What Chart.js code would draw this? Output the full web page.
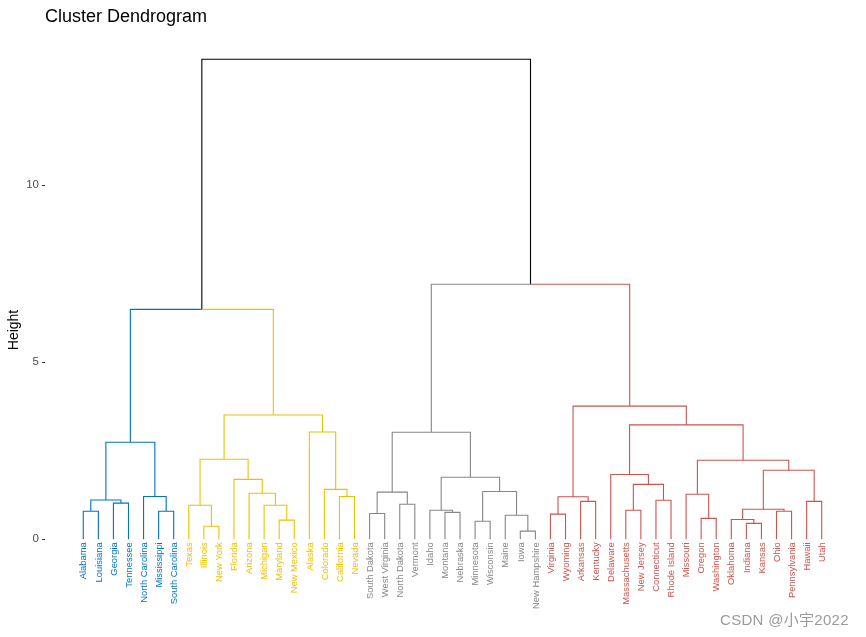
<!DOCTYPE html>
<html><head><meta charset="utf-8">
<script src="https://cdn.jsdelivr.net/npm/chart.js@4"></script>
<style>
html,body{margin:0;padding:0;background:#fff;}
#wrap{position:relative;width:866px;height:637px;}
#mark{position:absolute;left:720px;top:608px;font:15px "Liberation Sans","Noto Sans CJK SC",sans-serif;letter-spacing:0.3px;color:#9a9a9a;white-space:nowrap;}
</style></head><body>
<div id="wrap"><canvas id="c"></canvas><span id="mark">CSDN @小宇2022</span></div>
<script>
// Leaves in dendrogram order
const leaves = ["Alabama","Louisiana","Georgia","Tennessee","North Carolina","Mississippi","South Carolina",
  "Texas","Illinois","New York","Florida","Arizona","Michigan","Maryland","New Mexico","Alaska","Colorado","California","Nevada",
  "South Dakota","West Virginia","North Dakota","Vermont","Idaho","Montana","Nebraska","Minnesota","Wisconsin","Maine","Iowa","New Hampshire",
  "Virginia","Wyoming","Arkansas","Kentucky","Delaware","Massachusetts","New Jersey","Connecticut","Rhode Island","Missouri","Oregon","Washington",
  "Oklahoma","Indiana","Kansas","Ohio","Pennsylvania","Hawaii","Utah"];
// Cluster of each leaf (k = 4)
const leafCluster = [1,1,1,1,1,1,1,
  2,2,2,2,2,2,2,2,2,2,2,2,
  3,3,3,3,3,3,3,3,3,3,3,3,
  4,4,4,4,4,4,4,4,4,4,4,4,4,4,4,4,4,4,4];
const clusterColors = ["#0073C2","#EFC000","#868686","#CD534C"];
const rootColor = "#000000";
// Merge table (negative = leaf position, positive = earlier merge number)
const mergeLeft  = [-1,-3,1,-6,-5,3,-9,-8,-14,-13,-12,-11,8,-18,-17,-16,13,6,
  -20,-22,19,-25,-24,-27,-30,-29,24,23,21,
  -32,-34,30,-37,-39,33,-36,-42,-41,-45,-44,-47,40,-49,42,38,36,32,29,18];
const mergeRight = [-2,-4,2,-7,4,5,-10,7,-15,9,10,11,12,-19,14,15,16,17,
  -21,-23,20,-26,22,-28,-31,25,26,27,28,
  -33,-35,31,-38,-40,34,35,-43,37,-46,39,-48,41,-50,43,44,45,46,47,48];
const mergeHeight = [0.79,1.02,1.11,0.79,1.21,2.74,0.37,0.96,0.54,0.96,1.30,1.69,2.26,1.21,1.41,3.03,3.51,6.49,
  0.73,0.99,1.33,0.76,0.82,0.51,0.23,0.68,1.35,1.75,3.02,
  0.71,1.07,1.20,0.82,1.10,1.55,1.83,0.59,1.27,0.45,0.56,0.79,0.85,1.07,1.95,2.23,3.23,3.76,7.20,13.55];
const yTickValues = [0,5,10];

// Build node positions
const mx = [], mcl = [];
const nx = r => r < 0 ? -r : mx[r-1];
const nh = r => r < 0 ? 0 : mergeHeight[r-1];
const ncl = r => r < 0 ? leafCluster[-r-1] : mcl[r-1];
for (let i = 0; i < mergeHeight.length; i++) {
  const a = mergeLeft[i], b = mergeRight[i];
  mx.push((nx(a) + nx(b)) / 2);
  const ca = ncl(a), cb = ncl(b);
  mcl.push(ca !== null && ca === cb ? ca : null);
}
const groups = {};
function addEdge(i, c) {
  const cl = ncl(c);
  const col = cl === null ? rootColor : clusterColors[cl-1];
  if (!groups[col]) groups[col] = [];
  const h = mergeHeight[i];
  groups[col].push({x: mx[i], y: h}, {x: nx(c), y: h}, {x: nx(c), y: nh(c)}, {x: null, y: null});
}
for (let i = 0; i < mergeHeight.length; i++) { addEdge(i, mergeLeft[i]); addEdge(i, mergeRight[i]); }
const datasets = Object.keys(groups).map(col => ({
  data: groups[col], borderColor: col, backgroundColor: col, borderWidth: 1.1,
  showLine: true, pointRadius: 0, spanGaps: false, tension: 0
}));

const FONT = "'Liberation Sans', Arial, sans-serif";
new Chart(document.getElementById('c'), {
  type: 'scatter',
  data: { datasets },
  options: {
    responsive: true, maintainAspectRatio: false, animation: false,
    layout: { padding: { left: 0, right: 6, top: 0, bottom: 17 } },
    plugins: {
      legend: { display: false }, tooltip: { enabled: false },
      title: { display: true, text: 'Cluster Dendrogram', align: 'start', fullSize: false,
        color: '#000', font: { family: FONT, size: 18, weight: 'normal' }, padding: { top: 6, bottom: 12.4 } }
    },
    scales: {
      x: {
        type: 'linear', min: -1.54, max: 52.54, position: { y: 0 },
        afterBuildTicks: s => { s.ticks = leaves.map((_, i) => ({ value: i + 1 })); },
        grid: { display: false, drawTicks: false }, border: { display: false },
        ticks: { autoSkip: false, minRotation: 90, maxRotation: 90, padding: 3, labelOffset: 0.6,
          font: { family: FONT, size: 9.4 },
          color: ctx => clusterColors[leafCluster[ctx.index] - 1],
          callback: (v, i) => leaves[i] }
      },
      y: {
        type: 'linear', min: -2.278, max: 14.093, position: 'left',
        afterBuildTicks: s => { s.ticks = yTickValues.map(v => ({ value: v })); },
        afterFit: s => { s.width = 45; },
        grid: { display: true, drawOnChartArea: false, drawTicks: true, tickLength: 3, color: '#333333' },
        border: { display: false },
        ticks: { color: '#4D4D4D', font: { family: FONT, size: 11.5 }, padding: 3 },
        title: { display: true, text: 'Height', color: '#000', font: { family: FONT, size: 14 }, padding: { top: 6, bottom: 2 } }
      }
    }
  }
});
</script>
</body></html>
